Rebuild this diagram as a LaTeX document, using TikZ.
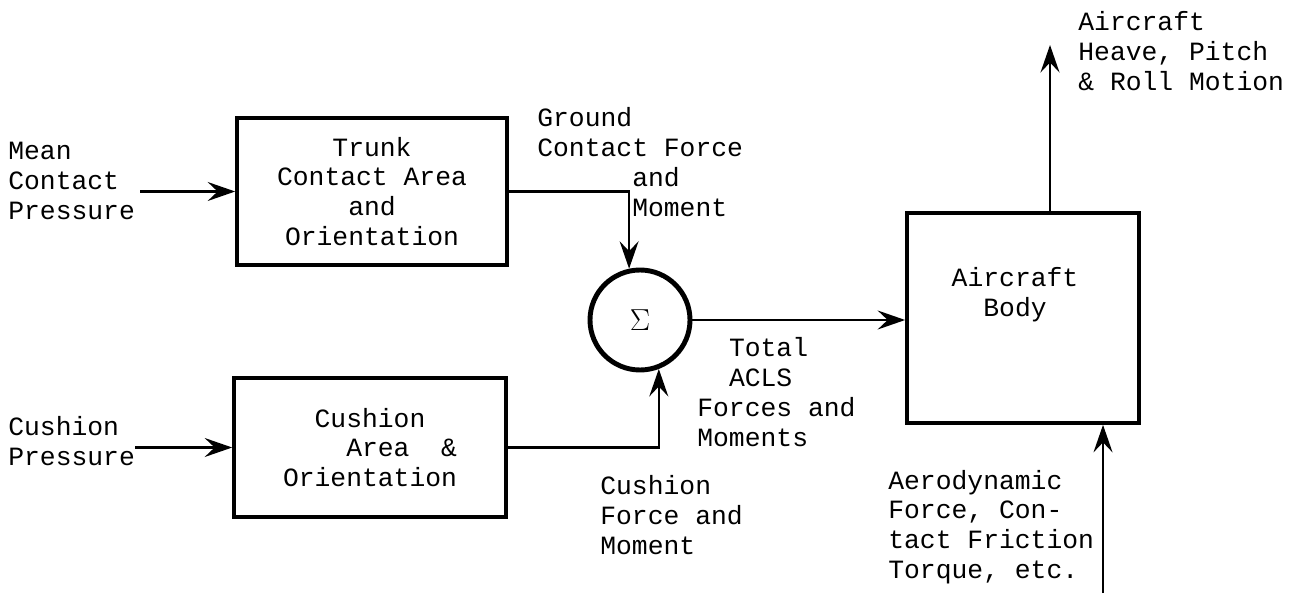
\documentclass[tikz,border=0pt]{standalone}
\usepackage{fontspec}
\setmainfont{Liberation Mono}
\usetikzlibrary{positioning, arrows.meta, calc}
\tikzset{
	blocknode/.style={
			shape=rectangle,
			draw=black,
			line width=2.1pt,
			align=center,
			inner sep=0pt
		},
	sumnode/.style={
			circle,
			draw=black,
			line width=2.8pt,
			minimum size=20mm,
			inner sep=0pt
		},
	plaintext/.style={
			align=left,
			inner sep=0pt,
			anchor=west
		}
}
\tikzset{
	flow/.style={-{Stealth[length=5.5mm,width=3.8mm,inset=2mm]}, line width=1.2pt}
}

\begin{document}
\begin{tikzpicture}[font=\fontsize{15}{17}\selectfont]
				\useasboundingbox (0,0) rectangle (26.02,11.86);

				\node[blocknode, minimum width=54mm, minimum height=29.4mm] (trunk) at (7.44,8.03) {Trunk\\Contact Area\\and\\Orientation};
				\node[blocknode, minimum width=54.4mm, minimum height=27.8mm] (cushion) at (7.40,2.91) {Cushion\\\phantom{Orie}Area\phantom{ab}\&\\Orientation};
				\node[sumnode] (sum) at (12.8,5.46) {\fontsize{16}{18}\selectfont$\Sigma$};
				\node[blocknode, minimum width=46.4mm, minimum height=42mm] (body) at (20.46,5.50) {};
				\node[align=center, inner sep=0pt] (bodytext) at (20.30,5.96) {Aircraft\\Body};

				\node[plaintext] (meanlbl) at (0.16,8.24) {Mean\\Contact\\Pressure};
				\node[plaintext] (cushlbl) at (0.16,3.04) {Cushion\\Pressure};
				\node[plaintext] (gndlbl) at (10.74,8.62) {Ground\\Contact Force\\\phantom{Ground}and\\\phantom{Ground}Moment};
				\node[plaintext] (totlbl) at (13.94,4.02) {\phantom{Fo}Total\\\phantom{Fo}ACLS\\Forces and\\Moments};
				\node[plaintext] (cflbl) at (12.0,1.56) {Cushion\\Force and\\Moment};
				\node[plaintext] (motlbl) at (21.56,10.84) {Aircraft\\Heave, Pitch\\\& Roll Motion};
				\node[plaintext] (aerolbl) at (17.76,1.32) {Aerodynamic\\Force, Con-\\tact Friction\\Torque, etc.};

				\coordinate (motion) at (21.0,10.96);
				\coordinate (aero) at (22.06,0);

				\draw[flow] ([xshift=1mm]meanlbl.east |- trunk.west) -- (trunk.west);
				\draw[flow] (cushlbl.east |- cushion.west) -- (cushion.west);
				\draw[flow] (trunk.east) -| (sum.102);
				\draw[flow] (cushion.east) -| (sum.-69);
				\draw[flow] (sum.east) -- (sum.east -| body.west);
				\draw[flow] (body.north -| motion) -- (motion);
				\draw[flow] (aero) -- (aero |- body.south);

			\end{tikzpicture}
\end{document}
